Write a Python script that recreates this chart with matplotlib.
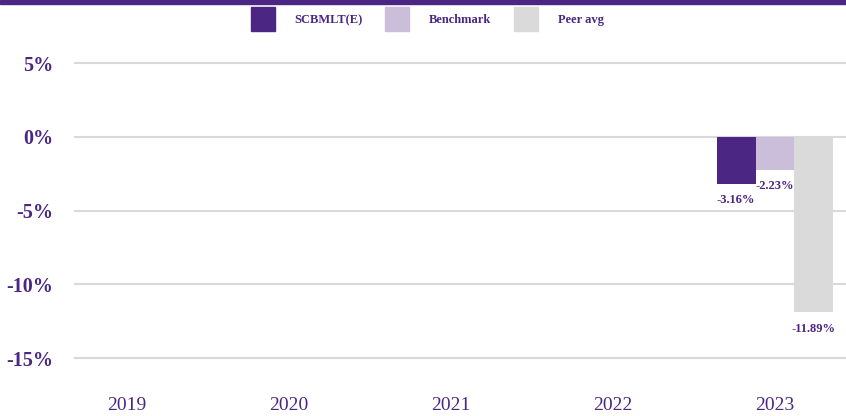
import numpy as np
import matplotlib
matplotlib.use("Agg")
import matplotlib.pyplot as plt
from matplotlib.patches import Rectangle
from matplotlib.lines import Line2D

# Data
years = ["2019", "2020", "2021", "2022", "2023"]
fund = [np.nan, np.nan, np.nan, np.nan, -3.16]
benchmark = [np.nan, np.nan, np.nan, np.nan, -2.23]
peer_avg = [np.nan, np.nan, np.nan, np.nan, -11.89]
series_names = ["SCBMLT(E)", "Benchmark", "Peer avg"]

purple = "#4B2683"
colors = ["#4B2683", "#CBBEDB", "#DADADA"]
serif = ["Liberation Serif", "DejaVu Serif"]

fig = plt.figure(figsize=(8.46, 4.16), dpi=100)
ax = fig.add_axes([74 / 846, 1 - 380 / 416, 1 - 74 / 846, 330 / 416])

x = np.arange(len(years))
w = 0.24
for i, (vals, name, c) in enumerate(zip([fund, benchmark, peer_avg], series_names, colors)):
    pos = x + (i - 1) * w
    ax.bar(pos, vals, width=w, color=c, label=name, zorder=3)
    for xp, v in zip(pos, vals):
        if not np.isnan(v):
            ax.annotate(f"{v:.2f}%", (xp, v), xytext=(0, -12), textcoords="offset points",
                        ha="center", va="center", fontsize=9, fontweight="bold",
                        color=purple, family=serif)

ax.set_xlim(-0.327, 4.438)
ax.set_ylim(-16.49, 5.9)
ax.set_yticks([5, 0, -5, -10, -15])
ax.set_yticklabels(["5%", "0%", "-5%", "-10%", "-15%"])
ax.set_xticks(x)
ax.set_xticklabels(years)
for lab in ax.get_yticklabels():
    lab.set_fontfamily(serif)
    lab.set_fontweight("bold")
    lab.set_fontsize(14.5)
    lab.set_color(purple)
for lab in ax.get_xticklabels():
    lab.set_fontfamily(serif)
    lab.set_fontsize(14)
    lab.set_color(purple)
ax.tick_params(axis="y", length=0, pad=15)
ax.tick_params(axis="x", length=0, pad=12)
ax.grid(axis="y", color="#D9D9D9", linewidth=1.5, zorder=0)
for s in ax.spines.values():
    s.set_visible(False)

handles = [Line2D([], [], linestyle="none", marker="s", markersize=17,
                  markerfacecolor=c, markeredgecolor=c) for c in colors]
leg = fig.legend(handles, series_names, loc="center", bbox_to_anchor=(0.505, 1 - 20 / 416),
                 ncol=3, frameon=False, handlelength=1.9, handletextpad=1.6,
                 columnspacing=1.8, prop={"family": serif, "weight": "bold", "size": 9})
for t in leg.get_texts():
    t.set_color(purple)

# top purple strip
fig.add_artist(Rectangle((0, 1 - 4 / 416), 1, 4 / 416, transform=fig.transFigure,
                         color=purple, zorder=5))

fig.savefig("out.png", dpi=100)
